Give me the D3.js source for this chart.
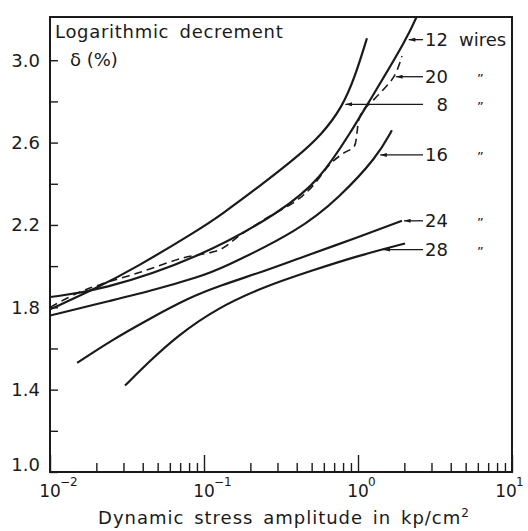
<!DOCTYPE html>
<html>
<head>
<meta charset="utf-8">
<script src="https://cdn.jsdelivr.net/npm/d3@7"></script>
<style>
body { margin: 0; background: #fff; }
svg text { font-family: "DejaVu Sans", sans-serif; fill: #1a1a1a; }
</style>
</head>
<body>
<svg id="chart" width="528" height="531"></svg>
<script>
// curve readings: [stress amplitude kp/cm², log decrement %]
const wires8 = [[0.010,1.79],[0.0196,1.89],[0.0356,1.99],[0.094,2.18],[0.127,2.245],[0.241,2.40],
    [0.402,2.53],[0.583,2.64],[0.787,2.77],[0.957,2.92],[1.143,3.107]];
const wires12 = [[0.010,1.85],[0.021,1.88],[0.094,2.04],[0.326,2.27],[0.566,2.42],
    [0.914,2.66],[1.16,2.79],[2.11,3.11],[2.6,3.27]];
const wires16 = [[0.010,1.76],[0.0256,1.835],[0.0481,1.885],[0.094,1.95],[0.127,1.985],[0.42,2.175],
    [0.76,2.335],[1.33,2.53],[1.66,2.66]];
const wires20 = [[0.010,1.80],[0.0152,1.87],[0.0211,1.91],[0.0384,1.97],[0.0731,2.04],[0.127,2.08],
    [0.171,2.15],[0.251,2.23],[0.402,2.32],[0.495,2.38],[0.668,2.50],[0.811,2.55],[0.942,2.58],
    [0.986,2.65],[1.01,2.71],[1.09,2.76],[1.27,2.81],[1.71,2.92],[1.93,3.02]];
const wires24 = [[0.0150,1.53],[0.0251,1.64],[0.0433,1.74],[0.079,1.845],[0.127,1.905],[0.245,1.975],
    [0.42,2.04],[1.0,2.14],[1.93,2.22]];
const wires28 = [[0.0307,1.42],[0.0446,1.54],[0.0668,1.66],[0.121,1.795],[0.245,1.90],[0.51,1.98],
    [1.0,2.05],[2.02,2.11]];

const curveNames = ["8", "12", "16", "20", "24", "28"];
const curveValues = [wires8, wires12, wires16, wires20, wires24, wires28];

// labels on the right, top to bottom, with the delta level of each leader line
const labelNames = ["12", "20", "8", "16", "24", "28"];
const labelLevels = [3.10, 2.92, 2.786, 2.54, 2.22, 2.08];

const xDecades = [0.01, 0.1, 1, 10];
const xExponents = ["\u22122", "\u22121", "0", "1"];
const yTicks = [1.0, 1.2, 1.4, 1.6, 1.8, 2.0, 2.2, 2.4, 2.6, 2.8, 3.0];
const yLabelled = [1.0, 1.4, 1.8, 2.2, 2.6, 3.0];

const margin = { left: 50, top: 17, right: 16, bottom: 59 };
const width = 528, height = 531;
const ink = "#1a1a1a";

const svg = d3.select("#chart");
const x = d3.scaleLog().domain([0.01, 10]).range([margin.left, width - margin.right]);
const y = d3.scaleLinear().domain([1.0, 3.21]).range([height - margin.bottom, margin.top]);

const defs = svg.append("defs");
defs.append("clipPath").attr("id", "plot")
    .append("rect")
    .attr("x", margin.left).attr("y", margin.top)
    .attr("width", width - margin.left - margin.right)
    .attr("height", height - margin.top - margin.bottom);

defs.append("marker")
    .attr("id", "arrow")
    .attr("viewBox", "0 0 10 6")
    .attr("refX", 0).attr("refY", 3)
    .attr("markerWidth", 7).attr("markerHeight", 4)
    .attr("markerUnits", "userSpaceOnUse")
    .attr("orient", "auto")
    .append("path")
    .attr("d", "M0,3 L10,0 L10,6 Z")
    .attr("fill", ink);

// minor x ticks 2..9 in every decade
const xTicks = [];
xDecades.slice(0, -1).forEach(d => {
    for (let k = 1; k <= 9; k++) xTicks.push(d * k);
});
xTicks.push(10);

const xAxis = svg.append("g")
    .attr("transform", `translate(0,${height - margin.bottom})`)
    .call(d3.axisBottom(x).tickValues(xTicks).tickSize(-9).tickFormat(""));
xAxis.select(".domain").remove();
xAxis.selectAll(".tick line")
    .attr("stroke", ink).attr("stroke-width", 1.4)
    .attr("y2", d => xDecades.some(v => Math.abs(v - d) < 1e-9) ? -17 : -9);

xDecades.forEach((d, i) => {
    const cx = Math.min(x(d), width - 22);
    svg.append("text")
        .attr("x", cx).attr("y", 497)
        .attr("text-anchor", "middle")
        .attr("font-size", 17)
        .text("10");
    svg.append("text")
        .attr("x", cx + 10).attr("y", 486)
        .attr("font-size", 12)
        .text(xExponents[i]);
});

const yAxis = svg.append("g")
    .attr("transform", `translate(${margin.left},0)`)
    .call(d3.axisLeft(y).tickValues(yTicks).tickSize(-8).tickPadding(10)
        .tickFormat(d => yLabelled.some(v => Math.abs(v - d) < 1e-9) ? d3.format(".1f")(d) : ""));
yAxis.select(".domain").remove();
yAxis.selectAll(".tick line").attr("stroke", ink).attr("stroke-width", 1.4);
yAxis.selectAll(".tick text")
    .attr("font-size", 18)
    .attr("font-family", "DejaVu Sans")
    .attr("fill", ink)
    .attr("transform", d => d === 1.0 ? "translate(0,-7)" : null);

// frame
svg.append("rect")
    .attr("x", margin.left).attr("y", margin.top)
    .attr("width", width - margin.left - margin.right)
    .attr("height", height - margin.top - margin.bottom)
    .attr("fill", "none").attr("stroke", ink).attr("stroke-width", 2);

// curves: smooth solid lines, the dashed one keeps its kink near 1 kp/cm²
const solidLine = d3.line()
    .x(d => x(d[0]))
    .y(d => y(d[1]))
    .curve(d3.curveBasis);
const dashedLine = d3.line()
    .x(d => x(d[0]))
    .y(d => y(d[1]))
    .curve(d3.curveCatmullRom.alpha(0.5));

svg.append("g").attr("clip-path", "url(#plot)")
    .selectAll("path")
    .data(curveValues)
    .join("path")
    .attr("d", (d, i) => curveNames[i] === "20" ? dashedLine(d) : solidLine(d))
    .attr("fill", "none")
    .attr("stroke", ink)
    .attr("stroke-width", (d, i) => curveNames[i] === "20" ? 1.6 : 2.2)
    .attr("stroke-dasharray", (d, i) => curveNames[i] === "20" ? "8,5" : null);

// x position where a curve reaches a given level
function xAtLevel(points, level) {
    for (let i = 1; i < points.length; i++) {
        const [x0, y0] = points[i - 1], [x1, y1] = points[i];
        if ((y0 - level) * (y1 - level) <= 0) {
            const t = y1 === y0 ? 0 : (level - y0) / (y1 - y0);
            return Math.pow(10, Math.log10(x0) + t * (Math.log10(x1) - Math.log10(x0)));
        }
    }
    return points[points.length - 1][0];
}

// leader lines and labels
labelNames.forEach((name, i) => {
    const pts = curveValues[curveNames.indexOf(name)];
    const ly = y(labelLevels[i]);
    const lx = x(xAtLevel(pts, labelLevels[i])) + 2;
    svg.append("line")
        .attr("x1", lx).attr("y1", ly)
        .attr("x2", 423).attr("y2", ly)
        .attr("stroke", ink).attr("stroke-width", 1.3)
        .attr("marker-start", "url(#arrow)");
    svg.append("text")
        .attr("x", 448).attr("y", ly + 6.5)
        .attr("text-anchor", "end")
        .attr("font-size", 18)
        .text(name);
    svg.append("text")
        .attr("x", name === "12" ? 459 : 477)
        .attr("y", ly + 6.5)
        .attr("font-size", name === "12" ? 18 : 13)
        .text(name === "12" ? "wires" : "\u201D");
});

// axis titles
svg.append("text")
    .attr("x", 55).attr("y", 38)
    .attr("font-size", 18)
    .attr("letter-spacing", 0.7)
    .attr("word-spacing", 4)
    .text("Logarithmic decrement");
svg.append("text")
    .attr("x", 70).attr("y", 66)
    .attr("font-size", 18)
    .text("\u03B4 (%)");

svg.append("text")
    .attr("x", 284).attr("y", 524)
    .attr("text-anchor", "middle")
    .attr("font-size", 18)
    .attr("letter-spacing", 1)
    .attr("word-spacing", 3)
    .text("Dynamic stress amplitude in kp/cm")
    .append("tspan")
    .attr("dy", -7)
    .attr("font-size", 12)
    .text("2");
</script>
</body>
</html>
